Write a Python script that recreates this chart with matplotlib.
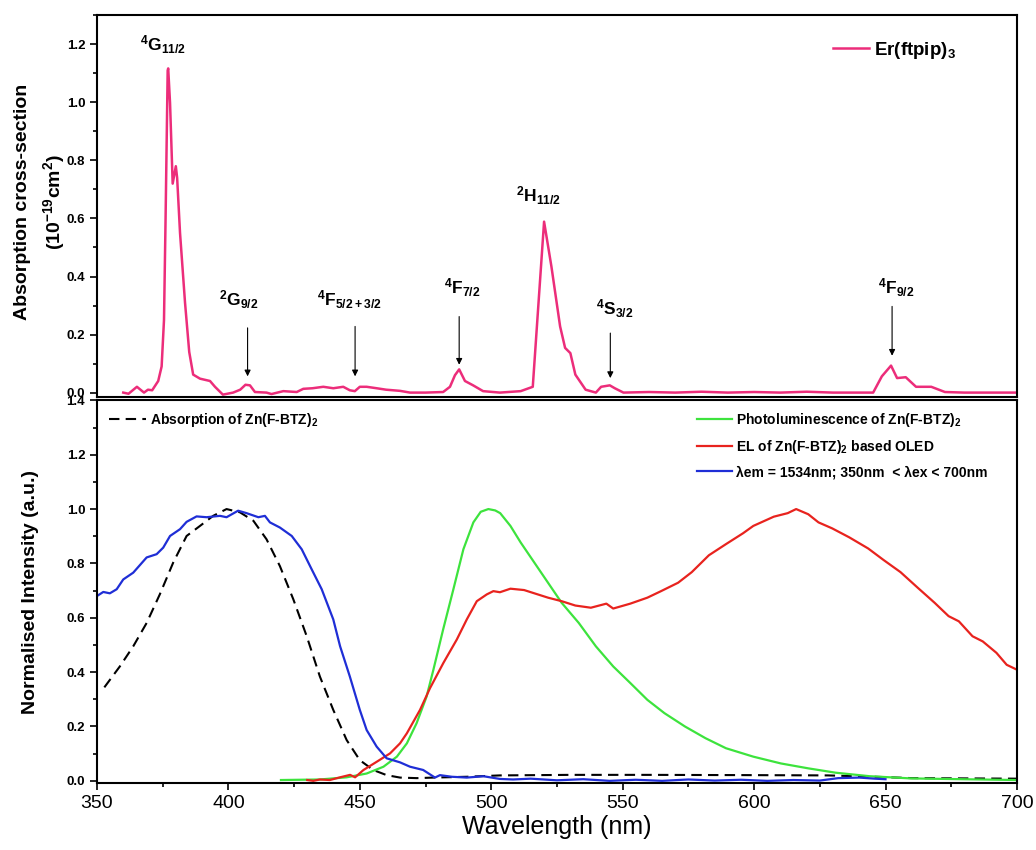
import numpy as np
import matplotlib
matplotlib.use("Agg")
import matplotlib.pyplot as plt
from matplotlib.ticker import MultipleLocator

plt.rcParams['font.family'] = ['Liberation Sans', 'DejaVu Sans']
plt.rcParams['mathtext.fontset'] = 'custom'
plt.rcParams['mathtext.rm'] = 'Liberation Sans:bold'
plt.rcParams['mathtext.it'] = 'Liberation Sans:bold'
plt.rcParams['mathtext.bf'] = 'Liberation Sans:bold'

# --- top panel: Er(ftpip)3 absorption cross-section ---
er_wl = [360, 362, 365.2, 367.9, 369.4, 371.0, 373.3, 374.6, 375.5, 376.1, 376.9, 377.1,
         377.8, 378.8, 380.0, 380.5, 381.6, 383.5, 385.1, 386.6, 389.2, 393.0, 394.9, 397.9,
         401.8, 404.5, 406.5, 408.2, 410.1, 414.5, 416.4, 420.9, 426.0, 428.5, 432.0, 436.1,
         439.9, 443.7, 446.2, 448.1, 450.0, 452.6, 456.4, 460.0, 465.3, 469.1, 475.0, 481.7,
         484.3, 486.2, 487.8, 490.0, 493.1, 496.9, 503.3, 511.2, 515.8, 520.1, 522.9, 526.2,
         528.1, 530.1, 532.0, 535.9, 539.8, 541.8, 545.1, 547.0, 550.3, 560, 570, 580, 590,
         600, 610, 620, 630, 640, 645.3, 648.6, 652.1, 654.4, 657.7, 661.6, 667.4, 672.6,
         680, 690, 700]
er_abs = [0.0, -0.004, 0.02, 0.0, 0.01, 0.008, 0.04, 0.09, 0.25, 0.6, 1.11, 1.117,
          0.998, 0.72, 0.78, 0.74, 0.55, 0.31, 0.14, 0.062, 0.048, 0.04, 0.02, -0.007,
          0.0, 0.01, 0.027, 0.025, 0.002, 0.0, -0.005, 0.005, 0.002, 0.013, 0.015, 0.02,
          0.015, 0.02, 0.008, 0.005, 0.02, 0.02, 0.015, 0.01, 0.006, 0.0, 0.0, 0.002,
          0.02, 0.06, 0.08, 0.04, 0.025, 0.005, 0.0, 0.005, 0.02, 0.589, 0.434, 0.228,
          0.154, 0.136, 0.062, 0.01, 0.0, 0.02, 0.025, 0.015, 0.0, 0.002, 0.0, 0.003, 0.0,
          0.002, 0.0, 0.003, 0.0, 0.0, 0.0, 0.056, 0.093, 0.05, 0.053, 0.02, 0.02, 0.002,
          0.0, 0.0, 0.0]

# transition labels: (text, x, y) and arrows: (x, y_start, y_end)
trans_labels = [r'$^{4}$G$_{11/2}$', r'$^{2}$G$_{9/2}$', r'$^{4}$F$_{5/2+3/2}$',
                r'$^{4}$F$_{7/2}$', r'$^{2}$H$_{11/2}$', r'$^{4}$S$_{3/2}$', r'$^{4}$F$_{9/2}$']
trans_x = [375, 404, 446, 489, 518, 547, 654]
trans_y = [1.2, 0.32, 0.32, 0.36, 0.68, 0.29, 0.36]
arrow_x = [407.3, 448.2, 487.8, 545.3, 652.5]
arrow_from = [0.223, 0.228, 0.262, 0.205, 0.297]
arrow_to = [0.056, 0.056, 0.096, 0.05, 0.127]

# --- bottom panel: normalised spectra ---
absz_wl = [352.8, 358.7, 363.8, 368.9, 373.9, 379.0, 384.1, 389.2, 394.2, 399.3, 404.4,
           409.5, 414.5, 419.6, 424.7, 429.8, 434.8, 439.9, 445.0, 450.0, 455.1, 460.2,
           465.3, 471.6, 478.0, 490.7, 503.3, 530, 560, 600, 628, 646, 660, 700]
absz = [0.344, 0.421, 0.495, 0.581, 0.686, 0.803, 0.901, 0.938, 0.975, 1.0, 0.988,
        0.957, 0.889, 0.79, 0.668, 0.532, 0.384, 0.261, 0.15, 0.076, 0.04, 0.021,
        0.012, 0.01, 0.012, 0.015, 0.02, 0.022, 0.022, 0.021, 0.02, 0.015, 0.01, 0.008]

pl_wl = [420, 434.8, 445.0, 452.6, 459.0, 464.1, 467.9, 471.6, 475.4, 478.0, 481.7, 485.6,
         489.4, 493.2, 496, 498.9, 501.5, 503.4, 507.3, 511.2, 516.4, 521.6, 526.8, 533.3,
         539.8, 546.4, 552.9, 559.4, 565.9, 573.7, 581.5, 589.3, 599.7, 610.2, 620.6, 631.0,
         644.0, 659.6, 679.2, 700]
pl = [0.003, 0.005, 0.013, 0.027, 0.052, 0.089, 0.138, 0.212, 0.31, 0.409, 0.557, 0.705,
      0.852, 0.951, 0.99, 1.0, 0.995, 0.985, 0.938, 0.877, 0.803, 0.729, 0.655, 0.581,
      0.495, 0.421, 0.36, 0.298, 0.249, 0.2, 0.157, 0.12, 0.089, 0.064, 0.046, 0.03,
      0.017, 0.009, 0.006, 0.003]

el_wl = [430, 432.3, 434.8, 438.6, 442.5, 446.3, 448.2, 451.4, 456.4, 461.5, 465.3, 467.9,
         472.9, 476.7, 481.8, 486.9, 490.7, 494.5, 498.3, 500.8, 503.3, 507.3, 512.5, 516.4,
         521.6, 526.8, 532.0, 537.9, 543.8, 546.4, 552.9, 559.4, 564.6, 571.1, 576.3, 582.8,
         589.3, 595.8, 599.7, 607.5, 612.8, 616.0, 620.6, 624.5, 629.7, 636.2, 643.4, 649.2,
         655.7, 662.2, 668.7, 674.0, 677.9, 683.1, 687.0, 692.2, 696.1, 700]
el = [0.003, 0.0, 0.005, 0.003, 0.013, 0.022, 0.013, 0.04, 0.07, 0.101, 0.138, 0.175,
      0.261, 0.341, 0.434, 0.52, 0.594, 0.661, 0.686, 0.698, 0.694, 0.707, 0.702, 0.69,
      0.674, 0.661, 0.645, 0.637, 0.652, 0.634, 0.652, 0.674, 0.698, 0.729, 0.768, 0.83,
      0.871, 0.911, 0.938, 0.972, 0.985, 1.0, 0.981, 0.951, 0.929, 0.896, 0.855, 0.813,
      0.768, 0.711, 0.655, 0.606, 0.587, 0.532, 0.513, 0.471, 0.427, 0.409]

exc_wl = [350, 352.4, 354.9, 357.5, 360.0, 363.8, 368.9, 372.7, 375.2, 377.8, 381.6, 384.1,
          387.9, 391.7, 396.8, 399.3, 403.7, 406.9, 411.4, 413.9, 415.8, 419.6, 424.1, 427.9,
          431.7, 435.5, 439.9, 442.5, 446.2, 450.0, 452.6, 456.4, 460.2, 465.3, 469.1, 474.1,
          478.6, 480.5, 485, 490.7, 497.0, 503.3, 508.3, 515, 525, 535, 545, 555, 565, 575,
          585, 595, 605, 615, 625, 632, 640, 646, 650]
exc = [0.68, 0.695, 0.69, 0.705, 0.741, 0.766, 0.822, 0.834, 0.858, 0.901, 0.926, 0.953,
       0.973, 0.97, 0.975, 0.97, 0.994, 0.985, 0.97, 0.975, 0.951, 0.932, 0.901, 0.852,
       0.778, 0.705, 0.594, 0.495, 0.384, 0.261, 0.187, 0.126, 0.083, 0.068, 0.052, 0.04,
       0.012, 0.021, 0.015, 0.012, 0.017, 0.007, 0.005, 0.008, 0.002, 0.006, 0.0, 0.004,
       0.0, 0.005, 0.001, 0.004, 0.0, 0.003, 0.001, 0.01, 0.012, 0.008, 0.006]

fig = plt.figure(figsize=(10.36, 8.5), dpi=100)
ax1 = fig.add_axes([0.0936, 0.533, 0.888, 0.449])
ax2 = fig.add_axes([0.0936, 0.0788, 0.888, 0.4502])

for ax in (ax1, ax2):
    for s in ax.spines.values():
        s.set_linewidth(1.5)
    ax.set_xlim(350, 700)
    ax.tick_params(which='both', direction='out', width=1.2, right=False, top=False)
    ax.tick_params(which='major', length=5)
    ax.tick_params(which='minor', length=3)
    ax.yaxis.set_major_locator(MultipleLocator(0.2))
    ax.yaxis.set_minor_locator(MultipleLocator(0.1))
    ax.tick_params(axis='y', labelsize=9.5)

# top
ax1.plot(er_wl, er_abs, color='#EC2D7A', lw=1.8, label=r'Er(ftpip)$_3$')
ax1.set_ylim(-0.015, 1.3)
ax1.set_yticks(np.arange(0, 1.21, 0.2))
ax1.set_yticklabels(['0.0', '0.2', '0.4', '0.6', '0.8', '1.0', '1.2'], fontweight='bold')
ax1.tick_params(axis='x', which='both', bottom=False, labelbottom=False)
ax1.set_ylabel('Absorption cross-section\n' + r'(10$^{-19}$cm$^{2}$)',
               fontsize=14, fontweight='bold', linespacing=1.5)
ax1.yaxis.set_label_coords(-0.033, 0.51)
for t, x, y in zip(trans_labels, trans_x, trans_y):
    ax1.text(x, y, t, fontsize=12.5, ha='center', va='center', fontweight='bold')
for x, y0, y1 in zip(arrow_x, arrow_from, arrow_to):
    ax1.annotate('', xy=(x, y1), xytext=(x, y0),
                 arrowprops=dict(arrowstyle='-|>', color='black', lw=0.8,
                                 mutation_scale=9, shrinkA=0, shrinkB=0))
ax1.legend(loc='upper left', bbox_to_anchor=(0.79, 0.96), frameon=False,
           prop={'size': 13.5, 'weight': 'bold'}, handlelength=1.9,
           handletextpad=0.3, borderpad=0)

# bottom
l_abs, = ax2.plot(absz_wl, absz, color='black', lw=1.5, dashes=(5, 3))
l_pl, = ax2.plot(pl_wl, pl, color='#3DE33D', lw=1.6)
l_el, = ax2.plot(el_wl, el, color='#E8231E', lw=1.6)
l_exc, = ax2.plot(exc_wl, exc, color='#1F2ED6', lw=1.6)
ax2.set_ylim(-0.008, 1.4)
ax2.set_yticks(np.arange(0, 1.41, 0.2))
ax2.set_yticklabels(['0.0', '0.2', '0.4', '0.6', '0.8', '1.0', '1.2', '1.4'], fontweight='bold')
ax2.xaxis.set_major_locator(MultipleLocator(50))
ax2.xaxis.set_minor_locator(MultipleLocator(25))
ax2.tick_params(axis='x', labelsize=14)
ax2.set_xlabel('Wavelength (nm)', fontsize=18, labelpad=2)
ax2.set_ylabel('Normalised Intensity (a.u.)', fontsize=14, fontweight='bold')
ax2.yaxis.set_label_coords(-0.063, 0.5)

leg1 = ax2.legend([l_abs], [r'Absorption of Zn(F-BTZ)$_2$'], loc='upper left',
                  bbox_to_anchor=(0.006, 0.99), frameon=False,
                  prop={'size': 10, 'weight': 'bold'}, handlelength=2.6,
                  handletextpad=0.3, borderpad=0)
ax2.add_artist(leg1)
ax2.legend([l_pl, l_el, l_exc],
           [r'Photoluminescence of Zn(F-BTZ)$_2$', r'EL of Zn(F-BTZ)$_2$ based OLED',
            'λem = 1534nm; 350nm  < λex < 700nm'],
           loc='upper left', bbox_to_anchor=(0.645, 0.99), frameon=False,
           prop={'size': 10, 'weight': 'bold'}, handlelength=2.5,
           handletextpad=0.3, labelspacing=0.65, borderpad=0)

fig.savefig('out.png', dpi=100)
